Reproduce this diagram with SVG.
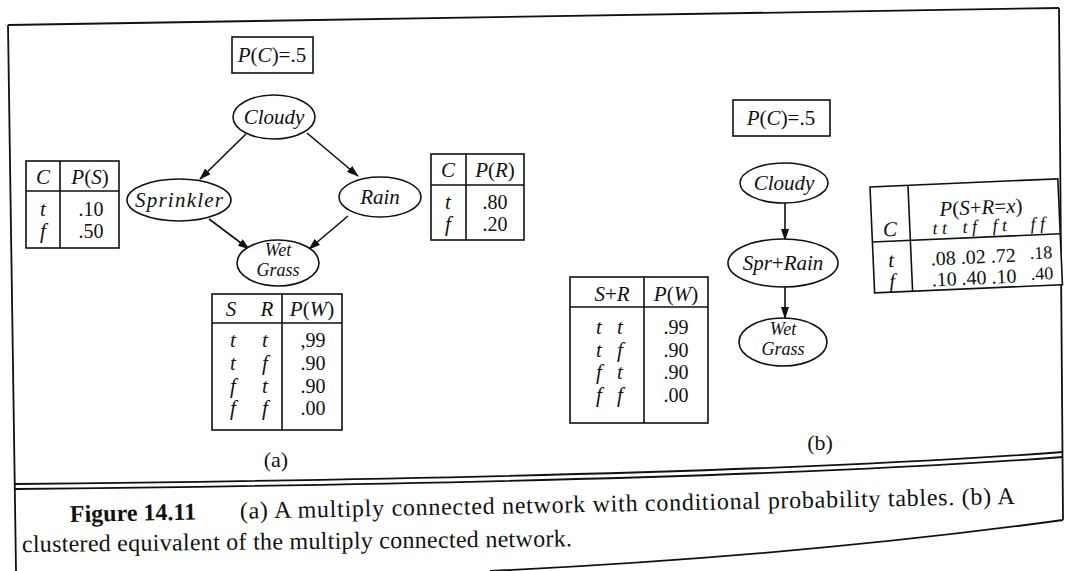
<svg xmlns="http://www.w3.org/2000/svg" width="1071" height="571" viewBox="0 0 1071 571">
  <style>
    text { font-family: "Liberation Serif", "Times New Roman", serif; fill: #111; }
    .it { font-style: italic; font-size: 21px; }
    .rm { font-size: 21px; }
    .num { font-size: 20px; }
    .sm { font-size: 18px; }
    .mid { text-anchor: middle; }
    .node ellipse { fill: #fff; stroke: #111; stroke-width: 1.6; }
    .box { fill: #fff; stroke: #111; stroke-width: 1.6; }
    .rule { stroke: #111; stroke-width: 1.6; fill: none; }
    .frame { stroke: #111; stroke-width: 1.8; fill: none; }
    .edge { stroke: #111; stroke-width: 1.6; fill: none; marker-end: url(#arrow); }
    .cap { font-size: 24px; }
    .capb { font-size: 24px; font-weight: bold; }
    .two { font-style: italic; font-size: 18px; text-anchor: middle; }
  </style>
  <defs>
    <marker id="arrow" viewBox="0 0 12 8" refX="11" refY="4" markerWidth="12" markerHeight="8" markerUnits="userSpaceOnUse" orient="auto">
      <path d="M0,0 L12,4 L0,8 Z" fill="#111"/>
    </marker>
  </defs>
  <rect width="1071" height="571" fill="#fff"/>

  <!-- page frame, double rule above the caption and caption border -->
  <g id="frame">
    <path class="frame" d="M8,25 L1059,8"/>
    <path class="frame" d="M8,25 L16,571"/>
    <path class="frame" d="M1059,8 L1063,520"/>
    <path class="frame" d="M15,484 C400,480 800,472 1063,452"/>
    <path class="frame" d="M15,489 C400,485 800,477 1063,457"/>
    <path class="frame" d="M490,571 Q800,556 1063,520"/>
  </g>

  <!-- connectors -->
  <g id="connectors">
    <path class="edge" d="M246,134 L200,179"/>
    <path class="edge" d="M307,133 L358,176"/>
    <path class="edge" d="M209,219 L249,249"/>
    <path class="edge" d="M348,216 L309,249"/>
    <path class="edge" d="M785,203 L785,240"/>
    <path class="edge" d="M785,287 L785,318"/>
  </g>

  <!-- (a) multiply connected network -->
  <g id="prior-c-a">
    <rect class="box" x="232" y="37" width="81" height="36"/>
    <text class="rm mid" x="272" y="62" font-size="22"><tspan font-style="italic">P</tspan>(<tspan font-style="italic">C</tspan>)=.5</text>
  </g>
  <g id="node-cloudy-a" class="node">
    <ellipse cx="274" cy="117" rx="41" ry="22"/>
    <text class="it mid" x="274" y="124">Cloudy</text>
  </g>
  <g id="node-sprinkler" class="node">
    <ellipse cx="179" cy="200" rx="52" ry="21"/>
    <text class="it mid" x="179" y="207" textLength="88">Sprinkler</text>
  </g>
  <g id="node-rain" class="node">
    <ellipse cx="380" cy="197" rx="41" ry="20"/>
    <text class="it mid" x="380" y="204">Rain</text>
  </g>
  <g id="node-wetgrass-a" class="node">
    <ellipse cx="278" cy="263" rx="41" ry="23"/>
    <text class="two" x="278" y="256">Wet</text>
    <text class="two" x="278" y="276">Grass</text>
  </g>

  <g id="cpt-sprinkler">
    <rect class="box" x="26" y="161" width="93" height="87"/>
    <path class="rule" d="M60,161 V248 M26,191 H119"/>
    <text class="it mid" x="43" y="184">C</text>
    <text class="rm mid" x="90" y="184"><tspan font-style="italic">P</tspan>(<tspan font-style="italic">S</tspan>)</text>
    <text class="it mid" x="43" y="216" font-size="20">t</text>
    <text class="it mid" x="43" y="238" font-size="20">f</text>
    <text class="num mid" x="91" y="216">.10</text>
    <text class="num mid" x="91" y="238">.50</text>
  </g>

  <g id="cpt-rain">
    <rect class="box" x="431" y="154" width="93" height="86"/>
    <path class="rule" d="M466,154 V240 M431,185 H524"/>
    <text class="it mid" x="448" y="177">C</text>
    <text class="rm mid" x="495" y="177"><tspan font-style="italic">P</tspan>(<tspan font-style="italic">R</tspan>)</text>
    <text class="it mid" x="448" y="209" font-size="20">t</text>
    <text class="it mid" x="448" y="231" font-size="20">f</text>
    <text class="num mid" x="495" y="209">.80</text>
    <text class="num mid" x="495" y="231">.20</text>
  </g>

  <g id="cpt-wetgrass-a">
    <rect class="box" x="212" y="294" width="130" height="136"/>
    <path class="rule" d="M282,294 V430 M212,323 H342"/>
    <text class="it mid" x="231" y="316">S</text>
    <text class="it mid" x="267" y="316">R</text>
    <text class="rm mid" x="312" y="316"><tspan font-style="italic">P</tspan>(<tspan font-style="italic">W</tspan>)</text>
    <text class="it mid" x="233" y="347">t</text>
    <text class="it mid" x="265" y="347">t</text>
    <text class="num mid" x="313" y="347">,99</text>
    <text class="it mid" x="233" y="370">t</text>
    <text class="it mid" x="265" y="370">f</text>
    <text class="num mid" x="313" y="370">.90</text>
    <text class="it mid" x="233" y="393">f</text>
    <text class="it mid" x="265" y="393">t</text>
    <text class="num mid" x="313" y="393">.90</text>
    <text class="it mid" x="233" y="415">f</text>
    <text class="it mid" x="265" y="415">f</text>
    <text class="num mid" x="313" y="415">.00</text>
  </g>
  <text id="label-a" class="mid" x="276" y="467" font-size="22">(a)</text>

  <!-- (b) clustered equivalent -->
  <g id="prior-c-b">
    <rect class="box" x="733" y="100" width="97" height="36"/>
    <text class="rm mid" x="781" y="125" font-size="22"><tspan font-style="italic">P</tspan>(<tspan font-style="italic">C</tspan>)=.5</text>
  </g>
  <g id="node-cloudy-b" class="node">
    <ellipse cx="784" cy="183" rx="44" ry="20"/>
    <text class="it mid" x="784" y="190">Cloudy</text>
  </g>
  <g id="node-sprrain" class="node">
    <ellipse cx="783" cy="263" rx="55" ry="24"/>
    <text class="it mid" x="783" y="270"><tspan>Spr</tspan><tspan font-style="normal">+</tspan><tspan>Rain</tspan></text>
  </g>
  <g id="node-wetgrass-b" class="node">
    <ellipse cx="783" cy="342" rx="44" ry="24"/>
    <text class="two" x="783" y="335">Wet</text>
    <text class="two" x="783" y="355">Grass</text>
  </g>

  <g id="cpt-wetgrass-b">
    <rect class="box" x="570" y="277" width="138" height="146"/>
    <path class="rule" d="M644,277 V423 M570,307 H708"/>
    <text class="it mid" x="612" y="301"><tspan>S</tspan><tspan font-style="normal">+</tspan><tspan>R</tspan></text>
    <text class="rm mid" x="676" y="301"><tspan font-style="italic">P</tspan>(<tspan font-style="italic">W</tspan>)</text>
    <text class="it mid" x="599" y="334">t</text>
    <text class="it mid" x="620" y="334">t</text>
    <text class="num mid" x="676" y="334">.99</text>
    <text class="it mid" x="599" y="357">t</text>
    <text class="it mid" x="620" y="357">f</text>
    <text class="num mid" x="676" y="357">.90</text>
    <text class="it mid" x="599" y="379">f</text>
    <text class="it mid" x="620" y="379">t</text>
    <text class="num mid" x="676" y="379">.90</text>
    <text class="it mid" x="599" y="402">f</text>
    <text class="it mid" x="620" y="402">f</text>
    <text class="num mid" x="676" y="402">.00</text>
  </g>

  <g id="cpt-sprrain" transform="rotate(-2.5 870 187)">
    <rect class="box" x="870" y="187" width="188" height="106"/>
    <path class="rule" d="M908,187 V293 M870,242 H1058"/>
    <text class="rm mid" x="980" y="219"><tspan font-style="italic">P</tspan>(<tspan font-style="italic">S</tspan>+<tspan font-style="italic">R</tspan>=<tspan font-style="italic">x</tspan>)</text>
    <text class="it mid" x="888" y="237">C</text>
    <text class="it mid sm" x="938" y="237">t t</text>
    <text class="it mid sm" x="968" y="237">t f</text>
    <text class="it mid sm" x="998" y="237">f t</text>
    <text class="it mid sm" x="1036" y="237">f f</text>
    <text class="it mid" x="888" y="268">t</text>
    <text class="num mid" x="940" y="268">.08</text>
    <text class="num mid" x="970" y="268">.02</text>
    <text class="num mid" x="1000" y="268">.72</text>
    <text class="sm mid" x="1038" y="266">.18</text>
    <text class="it mid" x="888" y="289">f</text>
    <text class="num mid" x="940" y="289">.10</text>
    <text class="num mid" x="970" y="289">.40</text>
    <text class="num mid" x="1000" y="289">.10</text>
    <text class="sm mid" x="1038" y="287">.40</text>
  </g>
  <text id="label-b" class="mid" x="820" y="450" font-size="22">(b)</text>

  <!-- figure caption -->
  <g id="caption">
    <g transform="rotate(-1.1 70 522)">
      <text class="capb" x="70" y="522">Figure 14.11</text>
      <text class="cap" x="240" y="522" textLength="775">(a) A multiply connected network with conditional probability tables. (b) A</text>
    </g>
    <text class="cap" x="22" y="552" textLength="550" transform="rotate(-0.6 22 552)">clustered equivalent of the multiply connected network.</text>
  </g>
</svg>
